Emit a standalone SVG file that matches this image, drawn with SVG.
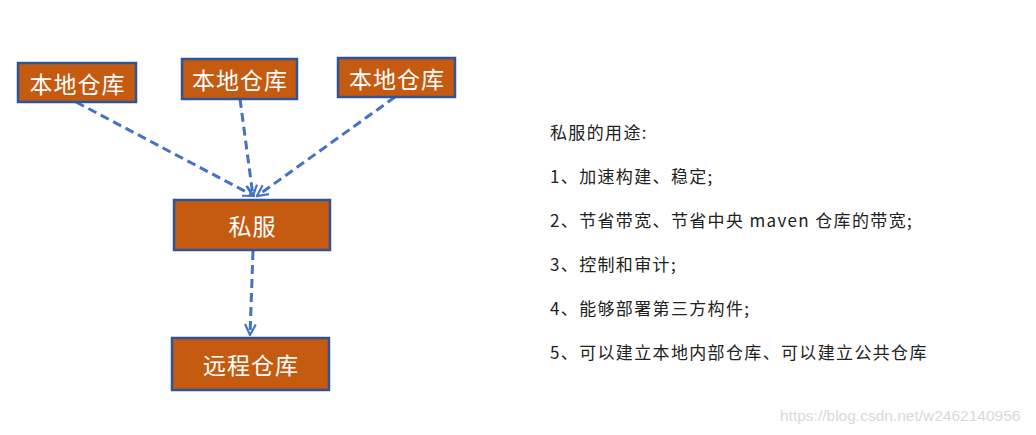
<svg xmlns="http://www.w3.org/2000/svg" width="1036" height="435" viewBox="0 0 1036 435">
<style>
.box{fill:#C55A11;stroke:#2F5597;stroke-width:2.5}
.bt{font-family:"Noto Sans CJK SC","Noto Sans",sans-serif;font-size:23px;letter-spacing:1px;fill:#ffffff;text-anchor:middle;dominant-baseline:central}
.conn{stroke:#4472C4;stroke-width:3;stroke-dasharray:9,5;fill:none}
.tx{font-family:"Noto Sans CJK SC","Noto Sans",sans-serif;font-size:17px;letter-spacing:1.35px;fill:#222222}
.wm{font-family:"Liberation Sans",Arial,sans-serif;font-size:15.5px;fill:#d9d9d9}
</style>
<defs>
<marker id="ah" viewBox="0 0 10 10" refX="9" refY="5" markerWidth="4.5" markerHeight="4.5" orient="auto" markerUnits="strokeWidth">
<path d="M1,1 L9,5 L1,9" fill="none" stroke="#4472C4" stroke-width="1.6"/>
</marker>
</defs>
<rect width="1036" height="435" fill="#ffffff"/>
<g id="connectors">
<line class="conn" x1="76" y1="102" x2="254" y2="196" marker-end="url(#ah)"/>
<line class="conn" x1="240" y1="99" x2="253" y2="196" marker-end="url(#ah)"/>
<line class="conn" x1="395" y1="97" x2="257" y2="196" marker-end="url(#ah)"/>
<line class="conn" x1="253" y1="251" x2="250" y2="335" marker-end="url(#ah)"/>
</g>
<g id="local1"><rect class="box" x="18" y="63" width="118" height="39"/><text class="bt" x="77.5" y="82.5">本地仓库</text></g>
<g id="local2"><rect class="box" x="182" y="59" width="115" height="40"/><text class="bt" x="240" y="79">本地仓库</text></g>
<g id="local3"><rect class="box" x="338" y="58" width="117" height="39"/><text class="bt" x="397" y="77.5">本地仓库</text></g>
<g id="private"><rect class="box" x="174" y="200" width="156" height="50"/><text class="bt" x="252.5" y="225">私服</text></g>
<g id="remote"><rect class="box" x="172" y="338" width="157" height="52"/><text class="bt" x="251" y="364">远程仓库</text></g>
<g id="notes">
<text class="tx" x="550" y="139">私服的用途:</text>
<text class="tx" x="550" y="183">1、加速构建、稳定;</text>
<text class="tx" x="550" y="227">2、节省带宽、节省中央 maven 仓库的带宽;</text>
<text class="tx" x="550" y="271">3、控制和审计;</text>
<text class="tx" x="550" y="315">4、能够部署第三方构件;</text>
<text class="tx" x="550" y="359">5、可以建立本地内部仓库、可以建立公共仓库</text>
</g>
<text class="wm" x="780" y="421">https://blog.csdn.net/w2462140956</text>
</svg>
